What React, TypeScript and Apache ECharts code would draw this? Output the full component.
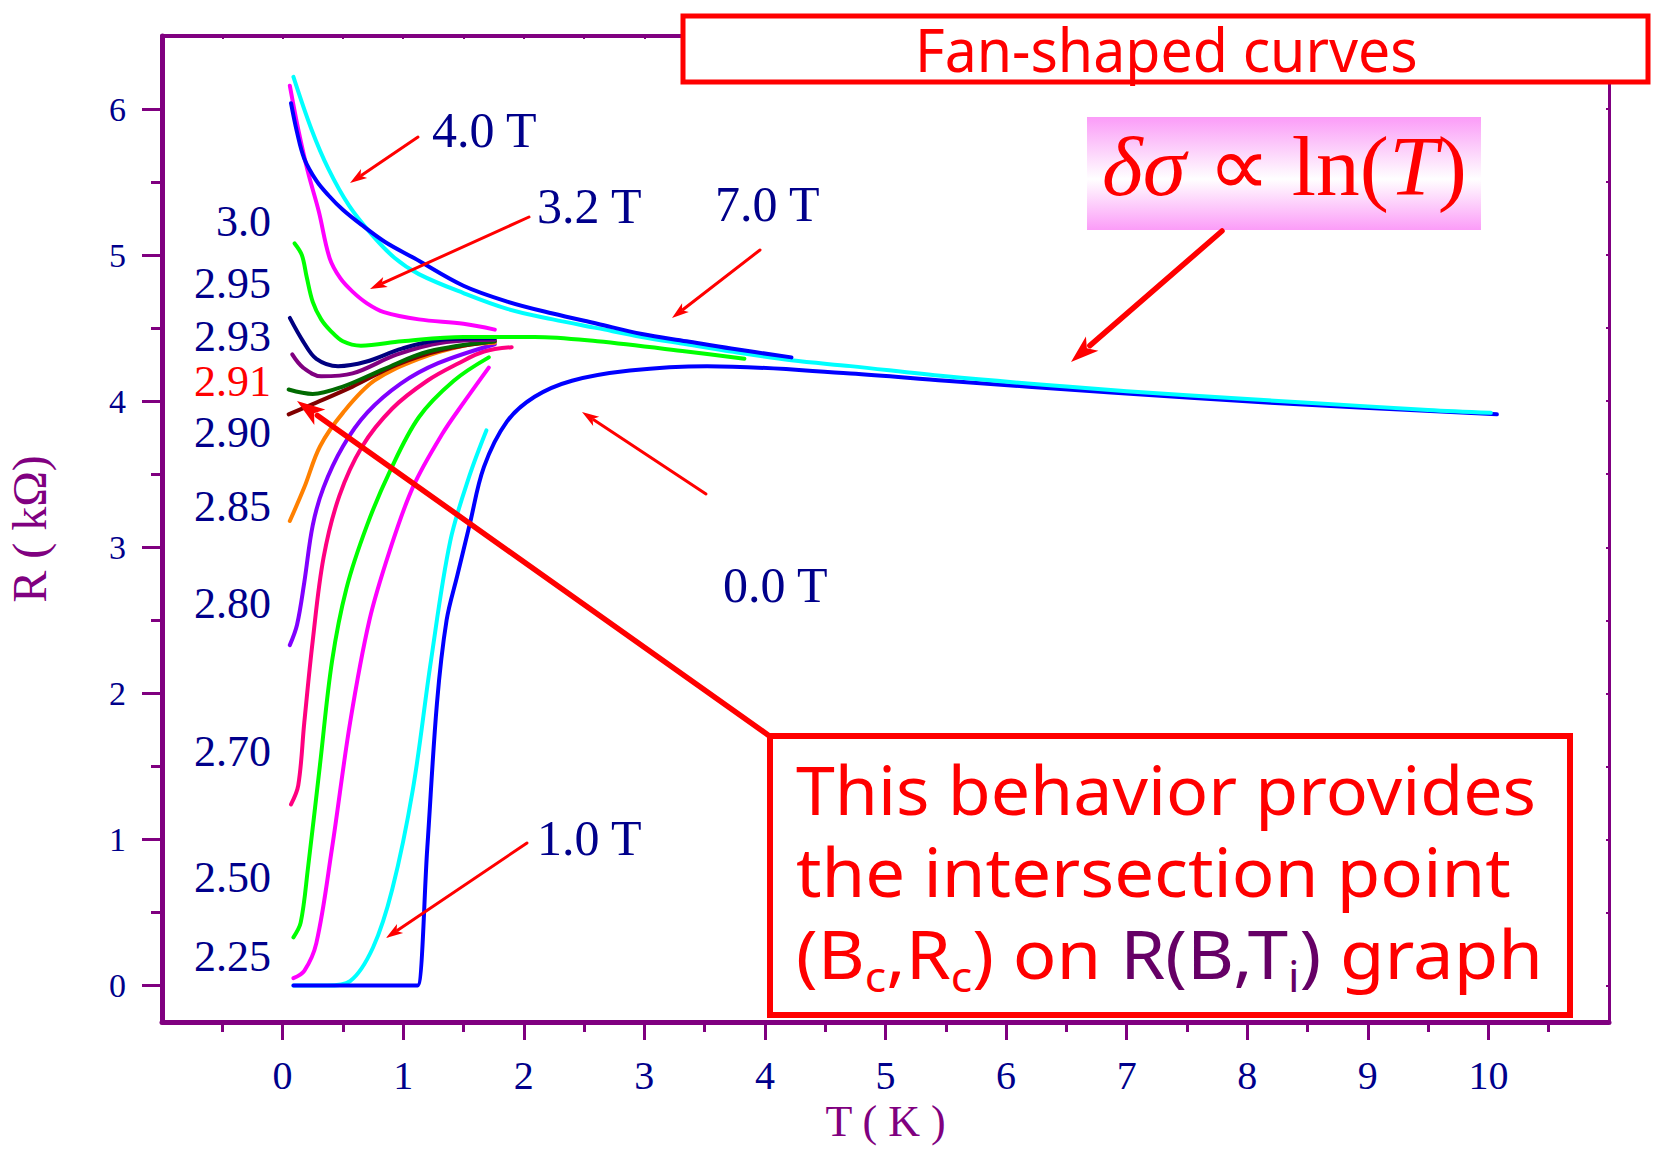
import React, { useEffect, useRef } from 'react';
import * as echarts from 'echarts';

// R(T) curves at different magnetic fields: temperature (K) and resistance (kΩ)
const t70 = [0.07, 0.12, 0.18, 0.28, 0.38, 0.5, 0.65, 0.85, 1.09, 1.5, 1.87, 2.24, 2.61, 2.98, 3.35, 3.72, 4.22];
const r70 = [6.04, 5.84, 5.66, 5.51, 5.41, 5.31, 5.21, 5.09, 4.98, 4.79, 4.68, 4.6, 4.53, 4.46, 4.41, 4.36, 4.3];

const t40 = [0.09, 0.24, 0.38, 0.55, 0.74, 0.93, 1.13, 1.5, 1.87, 2.24, 2.61, 2.98, 3.35, 3.72, 4.22, 4.71, 5.5, 6.5, 7.5, 8.5, 9.5, 10.02];
const r40 = [6.22, 5.86, 5.59, 5.34, 5.14, 4.98, 4.87, 4.74, 4.63, 4.56, 4.5, 4.44, 4.39, 4.34, 4.28, 4.24, 4.17, 4.1, 4.04, 3.99, 3.94, 3.92];

const t32 = [0.06, 0.13, 0.21, 0.3, 0.39, 0.48, 0.58, 0.7, 0.84, 1.13, 1.5, 1.76];
const r32 = [6.16, 5.86, 5.57, 5.3, 4.98, 4.84, 4.75, 4.67, 4.61, 4.56, 4.53, 4.49];

const t30 = [0.1, 0.16, 0.2, 0.25, 0.32, 0.4, 0.5, 0.65, 0.99, 1.5, 2.09, 2.61, 3.35, 3.83];
const r30 = [5.08, 5.0, 4.85, 4.68, 4.56, 4.48, 4.41, 4.38, 4.41, 4.44, 4.44, 4.41, 4.34, 4.29];

const t295 = [0.06, 0.17, 0.28, 0.46, 0.69, 0.99, 1.32, 1.76];
const r295 = [4.57, 4.41, 4.29, 4.24, 4.27, 4.36, 4.42, 4.43];

const t293 = [0.08, 0.17, 0.32, 0.58, 0.95, 1.32, 1.76];
const r293 = [4.32, 4.23, 4.17, 4.19, 4.32, 4.4, 4.42];

const t291 = [0.05, 0.25, 0.5, 0.84, 1.21, 1.76];
const r291 = [4.08, 4.05, 4.1, 4.22, 4.34, 4.41];

const t290 = [0.05, 0.25, 0.58, 0.95, 1.32, 1.76];
const r290 = [3.91, 3.98, 4.1, 4.25, 4.35, 4.41];

const t285 = [0.06, 0.18, 0.31, 0.5, 0.76, 1.13, 1.5, 1.76];
const r285 = [3.18, 3.41, 3.69, 3.92, 4.14, 4.29, 4.38, 4.4];

const t280 = [0.06, 0.12, 0.18, 0.25, 0.34, 0.5, 0.7, 0.98, 1.29, 1.76];
const r280 = [2.33, 2.47, 2.76, 3.15, 3.41, 3.69, 3.92, 4.12, 4.26, 4.39];

const t270 = [0.07, 0.13, 0.18, 0.25, 0.34, 0.47, 0.66, 0.91, 1.2, 1.46, 1.67, 1.9];
const r270 = [1.24, 1.37, 1.8, 2.36, 2.93, 3.35, 3.69, 3.95, 4.14, 4.26, 4.34, 4.37];

const t250 = [0.09, 0.15, 0.21, 0.31, 0.41, 0.53, 0.7, 0.89, 1.13, 1.42, 1.71];
const r250 = [0.33, 0.43, 0.8, 1.51, 2.22, 2.72, 3.15, 3.52, 3.89, 4.14, 4.3];

const t225 = [0.09, 0.18, 0.28, 0.41, 0.56, 0.72, 0.89, 1.08, 1.32, 1.51, 1.71];
const r225 = [0.05, 0.1, 0.29, 0.94, 1.8, 2.5, 2.98, 3.41, 3.77, 4.0, 4.23];

const t10 = [0.09, 0.37, 0.56, 0.75, 0.91, 1.08, 1.23, 1.39, 1.55, 1.69];
const r10 = [0.0, 0.0, 0.03, 0.26, 0.66, 1.34, 2.22, 3.04, 3.49, 3.8];

const t00 = [0.09, 1.0, 1.08, 1.12, 1.2, 1.28, 1.36, 1.45, 1.55, 1.67, 1.86, 2.09, 2.4, 2.88, 3.52, 4.71, 5.5, 6.87, 8.19, 10.07];
const r00 = [0.0, 0.0, 0.0, 0.0, 0.94, 1.93, 2.5, 2.81, 3.15, 3.55, 3.86, 4.03, 4.14, 4.21, 4.24, 4.19, 4.14, 4.06, 3.99, 3.91];

// field labels written next to the low-temperature ends of the curves
const fieldLabels = ['3.0', '2.95', '2.93', '2.91', '2.90', '2.85', '2.80', '2.70', '2.50', '2.25'];

const xTickValues = [0, 1, 2, 3, 4, 5, 6, 7, 8, 9, 10];
const xMinorValues = [-0.5, 0.5, 1.5, 2.5, 3.5, 4.5, 5.5, 6.5, 7.5, 8.5, 9.5, 10.5];
const yTickValues = [0, 1, 2, 3, 4, 5, 6];
const yMinorValues = [0.5, 1.5, 2.5, 3.5, 4.5, 5.5];

const PURPLE = '#800080';
const NAVY = '#00008b';
const RED = '#ff0000';
const PLUM = '#660066';
const SERIF = '"Liberation Serif", "Times New Roman", serif';
const SANS = '"Noto Sans", "DejaVu Sans", sans-serif';

const zip = (xs: number[], ys: number[]) => xs.map((x, i) => [x, ys[i]]);

const curves = [
  { name: '2.25 T', t: t225, r: r225, color: '#ff00ff' },
  { name: '2.50 T', t: t250, r: r250, color: '#00ff00' },
  { name: '2.70 T', t: t270, r: r270, color: '#ff0080' },
  { name: '2.80 T', t: t280, r: r280, color: '#8000ff' },
  { name: '2.85 T', t: t285, r: r285, color: '#ff8000' },
  { name: '2.90 T', t: t290, r: r290, color: '#800000' },
  { name: '2.91 T', t: t291, r: r291, color: '#006a00' },
  { name: '2.93 T', t: t293, r: r293, color: '#800080' },
  { name: '2.95 T', t: t295, r: r295, color: '#000080' },
  { name: '3.0 T', t: t30, r: r30, color: '#00ff00' },
  { name: '3.2 T', t: t32, r: r32, color: '#ff00ff' },
  { name: '1.0 T', t: t10, r: r10, color: '#00ffff' },
  { name: '0.0 T', t: t00, r: r00, color: '#0000ff' },
  { name: '4.0 T', t: t40, r: r40, color: '#00ffff' },
  { name: '7.0 T', t: t70, r: r70, color: '#0000ff' },
];

let measureCtx: CanvasRenderingContext2D | null = null;
function textWidth(s: string, size: number, family: string, style = 'normal') {
  if (!measureCtx) measureCtx = document.createElement('canvas').getContext('2d');
  if (!measureCtx) return s.length * size * 0.5;
  measureCtx.font = `${style} normal ${size}px ${family}`;
  return measureCtx.measureText(s).width;
}

function arrow(x1: number, y1: number, x2: number, y2: number, w: number, headLen: number, headW: number) {
  const dx = x2 - x1;
  const dy = y2 - y1;
  const L = Math.hypot(dx, dy);
  const ux = dx / L;
  const uy = dy / L;
  const bx = x2 - ux * headLen;
  const by = y2 - uy * headLen;
  const px = -uy;
  const py = ux;
  return [
    { type: 'line', z: 60, shape: { x1, y1, x2: bx + ux * 3, y2: by + uy * 3 }, style: { stroke: RED, lineWidth: w, lineCap: 'round' } },
    {
      type: 'polygon', z: 60,
      shape: { points: [[x2, y2], [bx + (px * headW) / 2, by + (py * headW) / 2], [bx + ux * headLen * 0.25, by + uy * headLen * 0.25], [bx - (px * headW) / 2, by - (py * headW) / 2]] },
      style: { fill: RED },
    },
  ];
}

type Tok = { t: string; c: string; sub?: boolean; italic?: boolean };

// a line of text made from pieces, stretched horizontally to a given width
function textLine(tokens: Tok[], x0: number, midY: number, size: number, family: string, width: number, subDrop: number) {
  const subSize = Math.round(size * 0.62);
  let cx = 0;
  const children: any[] = [];
  tokens.forEach((tk) => {
    const fs = tk.sub ? subSize : size;
    const st = tk.italic ? 'italic' : 'normal';
    children.push({
      type: 'text', z: 70, x: cx, y: tk.sub ? midY + subDrop : midY,
      style: { text: tk.t, fill: tk.c, fontSize: fs, fontFamily: family, fontStyle: st, align: 'left', verticalAlign: 'middle' },
    });
    cx += textWidth(tk.t, fs, family, st);
  });
  const s = width / cx;
  return { type: 'group', x: x0, y: 0, scaleX: s, children };
}

function buildOption() {
  const series = curves.map((c) => ({
    name: c.name,
    type: 'line',
    data: zip(c.t, c.r),
    showSymbol: false,
    symbol: 'none',
    smooth: 0.35,
    lineStyle: { color: c.color, width: 4, cap: 'round', join: 'round' },
    itemStyle: { color: c.color },
    z: 3,
  }));

  const labelY = [221, 283, 336, 381, 432, 506, 603, 751, 877, 956];
  const fieldTexts = fieldLabels.map((s, i) => ({
    type: 'text', z: 40, x: 271, y: labelY[i],
    style: { text: s, fill: s === '2.91' ? RED : NAVY, fontSize: 44, fontFamily: SERIF, align: 'right', verticalAlign: 'middle' },
  }));

  const notes = [
    { s: '4.0 T', x: 432, y: 130 },
    { s: '3.2 T', x: 537, y: 206 },
    { s: '7.0 T', x: 715, y: 204 },
    { s: '0.0 T', x: 723, y: 585 },
    { s: '1.0 T', x: 537, y: 838 },
  ].map((n) => ({
    type: 'text', z: 40, x: n.x, y: n.y,
    style: { text: n.s, fill: NAVY, fontSize: 50, fontFamily: SERIF, align: 'left', verticalAlign: 'middle' },
  }));

  const arrows = [
    ...arrow(418, 137, 350, 183, 3, 17, 11),
    ...arrow(529, 217, 370, 289, 3, 17, 11),
    ...arrow(760, 250, 672, 318, 3, 17, 11),
    ...arrow(706, 494, 582, 412, 3, 17, 11),
    ...arrow(527, 843, 386, 938, 3, 17, 11),
    ...arrow(768, 735, 297, 401, 5.5, 28, 19),
    ...arrow(1222, 231, 1071, 362, 5.5, 28, 19),
  ];

  const bodySize = 68;
  const boxText = [
    textLine([{ t: 'This behavior provides', c: RED }], 796, 815 - 0.39 * bodySize, bodySize, SANS, 740, 0),
    textLine([{ t: 'the intersection point', c: RED }], 796, 897 - 0.39 * bodySize, bodySize, SANS, 715, 0),
    textLine(
      [
        { t: '(B', c: RED },
        { t: 'c', c: RED, sub: true },
        { t: ',R', c: RED },
        { t: 'c', c: RED, sub: true },
        { t: ') on ', c: RED },
        { t: 'R(B,T', c: PLUM },
        { t: 'i', c: PLUM, sub: true },
        { t: ')', c: PLUM },
        { t: ' graph', c: RED },
      ],
      796, 979 - 0.39 * bodySize, bodySize, SANS, 747, 24,
    ),
  ];

  const formula = textLine(
    [
      { t: 'δσ', c: RED, italic: true },
      { t: ' ∝ ln(', c: RED },
      { t: 'T', c: RED, italic: true },
      { t: ')', c: RED },
    ],
    1102, 196 - 0.34 * 84, 84, SERIF, 365, 0,
  );

  const title = textLine([{ t: 'Fan-shaped curves', c: RED }], 915, 72 - 0.39 * 60, 60, SANS, 503, 0);

  const graphic = [
    ...fieldTexts,
    ...notes,
    {
      type: 'rect', z: 50, shape: { x: 683, y: 16, width: 965, height: 66 },
      style: { fill: '#ffffff', stroke: RED, lineWidth: 5 },
    },
    title,
    {
      type: 'rect', z: 50, shape: { x: 1087, y: 117, width: 394, height: 113 },
      style: {
        fill: new echarts.graphic.LinearGradient(0, 0, 0, 1, [
          { offset: 0, color: '#fb9cf8' },
          { offset: 0.22, color: '#fcc4fa' },
          { offset: 0.55, color: '#ffffff' },
          { offset: 0.8, color: '#fdc8fb' },
          { offset: 1, color: '#fb9cf8' },
        ]),
      },
    },
    formula,
    {
      type: 'rect', z: 50, shape: { x: 770, y: 736, width: 800, height: 279 },
      style: { fill: '#ffffff', stroke: RED, lineWidth: 6 },
    },
    ...boxText,
    ...arrows,
  ];

  const xRange = { type: 'value', min: -1, max: 11, splitLine: { show: false } };
  const yRange = { type: 'value', min: -0.25, max: 6.5, splitLine: { show: false } };
  const noLine = { show: false, onZero: false };
  const tickOnly = (values: number[], length: number, inside = false, width = 3) => ({
    show: true, customValues: values, length, inside, lineStyle: { color: PURPLE, width },
  });

  return {
    animation: false,
    backgroundColor: '#ffffff',
    grid: { left: 162, top: 36, width: 1447, height: 986, containLabel: false, outerBoundsMode: 'none' },
    xAxis: [
      {
        ...xRange,
        position: 'bottom',
        name: 'T ( K )',
        nameLocation: 'middle',
        nameGap: 76,
        nameTextStyle: { color: PURPLE, fontSize: 44, fontFamily: SERIF },
        axisLine: { show: true, onZero: false, lineStyle: { color: PURPLE, width: 5 } },
        axisTick: { show: false },
        axisLabel: { show: true, customValues: xTickValues, color: NAVY, fontSize: 40, fontFamily: SERIF, margin: 33 },
      },
      { ...xRange, position: 'bottom', axisLine: noLine, axisTick: tickOnly(xTickValues, 18), axisLabel: { show: false } },
      { ...xRange, position: 'bottom', axisLine: noLine, axisTick: tickOnly(xMinorValues, 10), axisLabel: { show: false } },
      {
        ...xRange,
        position: 'top',
        axisLine: { show: true, onZero: false, lineStyle: { color: PURPLE, width: 4 } },
        axisTick: tickOnly([...xMinorValues, ...xTickValues], 3, true, 2),
        axisLabel: { show: false },
      },
    ],
    yAxis: [
      {
        ...yRange,
        position: 'left',
        name: 'R ( kΩ)',
        nameLocation: 'middle',
        nameGap: 109,
        nameRotate: 90,
        nameTextStyle: { color: PURPLE, fontSize: 48, fontFamily: SERIF },
        axisLine: { show: true, onZero: false, lineStyle: { color: PURPLE, width: 5 } },
        axisTick: { show: false },
        axisLabel: { show: true, customValues: yTickValues, color: NAVY, fontSize: 34, fontFamily: SERIF, margin: 36 },
      },
      { ...yRange, position: 'left', axisLine: noLine, axisTick: tickOnly(yTickValues, 20), axisLabel: { show: false } },
      { ...yRange, position: 'left', axisLine: noLine, axisTick: tickOnly(yMinorValues, 11), axisLabel: { show: false } },
      {
        ...yRange,
        position: 'right',
        axisLine: { show: true, onZero: false, lineStyle: { color: PURPLE, width: 3 } },
        axisTick: tickOnly([...yMinorValues, ...yTickValues], 3, true, 2),
        axisLabel: { show: false },
      },
    ],
    series,
    graphic,
  };
}

export default function App() {
  const ref = useRef<HTMLDivElement>(null);
  useEffect(() => {
    if (!ref.current) return;
    const chart = echarts.init(ref.current, null, { renderer: 'svg', width: 1659, height: 1152 });
    chart.setOption(buildOption() as any);
    return () => chart.dispose();
  }, []);
  return (
    <div
      ref={ref}
      style={{ position: 'absolute', left: 0, top: 0, width: 1659, height: 1152, background: '#ffffff' }}
    />
  );
}
